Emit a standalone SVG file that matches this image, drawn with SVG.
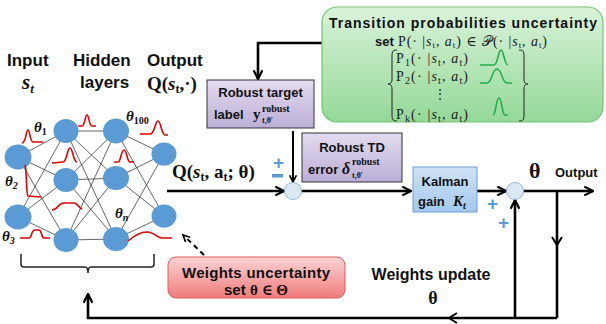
<svg xmlns="http://www.w3.org/2000/svg" width="606" height="324" viewBox="0 0 606 324">
<style>
.n{fill:#5b9bd5}
.e{stroke:#222;stroke-width:0.7}
.r{fill:none;stroke:#e00000;stroke-width:1.6}
.g{fill:none;stroke:#1fae4a;stroke-width:1.6}
.c{fill:none;stroke:#000;stroke-width:2.6}
.c2{fill:none;stroke:#000;stroke-width:2}
.lbl{font-family:"Liberation Sans",Arial,sans-serif;font-weight:bold;fill:#111}
.m{font-family:"Liberation Serif","Times New Roman","DejaVu Serif",serif;font-weight:bold;fill:#111}
.mt{font-family:"Liberation Serif","Times New Roman","DejaVu Serif",serif;fill:#222}
.pl{font-family:"Liberation Sans",Arial,sans-serif;font-weight:bold;fill:#5b9bd5}
</style>
<defs>
<marker id="ah" viewBox="0 0 10 10" refX="9" refY="5" markerWidth="4.2" markerHeight="4.2" orient="auto-start-reverse" markerUnits="strokeWidth">
<path d="M1,1 L9,5 L1,9" fill="none" stroke="#000" stroke-width="2"/>
</marker>
<linearGradient id="gPur" x1="0" y1="0" x2="0" y2="1"><stop offset="0" stop-color="#e3dbef"/><stop offset="1" stop-color="#bcaed7"/></linearGradient>
<linearGradient id="gBlu" x1="0" y1="0" x2="0" y2="1"><stop offset="0" stop-color="#cfe2f5"/><stop offset="1" stop-color="#a3c8ec"/></linearGradient>
<linearGradient id="gRed" x1="0" y1="0" x2="0" y2="1"><stop offset="0" stop-color="#fbd3d3"/><stop offset="1" stop-color="#f07c7c"/></linearGradient>
<linearGradient id="gGrn" x1="0" y1="0" x2="0" y2="1"><stop offset="0" stop-color="#d9f3d9"/><stop offset="1" stop-color="#94d898"/></linearGradient>
</defs>

<!-- neural network -->
<g id="network">
  <g id="nn-edges">
    <line class="e" x1="18" y1="157" x2="66" y2="131"/><line class="e" x1="18" y1="157" x2="66" y2="180"/><line class="e" x1="18" y1="157" x2="66" y2="240"/>
    <line class="e" x1="18" y1="217" x2="66" y2="131"/><line class="e" x1="18" y1="217" x2="66" y2="180"/><line class="e" x1="18" y1="217" x2="66" y2="240"/>
    <line class="e" x1="66" y1="131" x2="116" y2="131"/><line class="e" x1="66" y1="131" x2="116" y2="178"/><line class="e" x1="66" y1="131" x2="116" y2="239"/>
    <line class="e" x1="66" y1="180" x2="116" y2="131"/><line class="e" x1="66" y1="180" x2="116" y2="178"/><line class="e" x1="66" y1="180" x2="116" y2="239"/>
    <line class="e" x1="66" y1="240" x2="116" y2="131"/><line class="e" x1="66" y1="240" x2="116" y2="178"/><line class="e" x1="66" y1="240" x2="116" y2="239"/>
    <line class="e" x1="116" y1="131" x2="164" y2="154"/><line class="e" x1="116" y1="131" x2="164" y2="216"/>
    <line class="e" x1="116" y1="178" x2="164" y2="154"/><line class="e" x1="116" y1="178" x2="164" y2="216"/>
    <line class="e" x1="116" y1="239" x2="164" y2="154"/><line class="e" x1="116" y1="239" x2="164" y2="216"/>
  </g>
  <g id="nn-nodes">
    <ellipse class="n" cx="18" cy="157" rx="13.5" ry="12.5"/>
    <ellipse class="n" cx="18" cy="217" rx="13.5" ry="12.5"/>
    <ellipse class="n" cx="66" cy="131" rx="12.5" ry="12"/>
    <ellipse class="n" cx="66" cy="180" rx="12.5" ry="12"/>
    <ellipse class="n" cx="66" cy="240" rx="12.5" ry="12"/>
    <ellipse class="n" cx="116" cy="131" rx="13" ry="12.5"/>
    <ellipse class="n" cx="116" cy="178" rx="13" ry="12"/>
    <ellipse class="n" cx="116" cy="239" rx="13" ry="12"/>
    <ellipse class="n" cx="164" cy="154" rx="12.5" ry="11.5"/>
    <ellipse class="n" cx="164" cy="216" rx="12.5" ry="11.5"/>
  </g>
  <g id="nn-distributions">
    <path class="r" d="M22,143 C26,143 26,130 28,130 C30,130 30,142 33,142 L43,142"/>
    <path class="r" d="M25,165 C27,170 26,195 28,196 L41,197"/>
    <path class="r" d="M78,126 L82,126 C85,126 85,115 87,115 C89,115 89,126 92,126 L96,126"/>
    <path class="r" d="M52,163 L63,162 C67,162 67,148 70,148 C73,148 73,162 77,162"/>
    <path class="r" d="M52,210 C58,210 58,203 64,203 L74,203 C78,203 78,208 82,209"/>
    <path class="r" d="M20,238 L29,238 C32,238 31,230 35,230 L39,230 C42,230 41,238 44,238 L50,238"/>
    <path class="r" d="M114,162 L118,162 C121,162 121,150 124,150 C127,150 127,162 130,162 L134,162"/>
    <path class="r" d="M140,134 L150,134 C155,134 155,121 158,121 C161,121 161,134 165,135 L168,135"/>
    <path class="r" d="M128,241 C135,235 140,232 147,232 C154,232 157,238 162,238 L172,238"/>
  </g>
  <g id="nn-labels">
    <text class="m" x="34" y="132" font-size="15" font-style="italic">θ<tspan dy="3" font-size="10" font-style="normal">1</tspan></text>
    <text class="m" x="5" y="186" font-size="15" font-style="italic">θ<tspan dy="3" font-size="10">2</tspan></text>
    <text class="m" x="2" y="241" font-size="15" font-style="italic">θ<tspan dy="3" font-size="10">3</tspan></text>
    <text class="m" x="126" y="121" font-size="15" font-style="italic">θ<tspan dy="3" font-size="10" font-style="normal">100</tspan></text>
    <text class="m" x="115" y="218" font-size="15" font-style="italic">θ<tspan dy="3" font-size="10">n</tspan></text>
  </g>
  <path id="nn-brace" d="M21,254 L21,264 Q21,267 24,267 L85,267 Q88,267 88,273 Q88,267 91,267 L151,267 Q154,267 154,264 L154,254" fill="none" stroke="#222" stroke-width="1.5"/>
</g>

<g id="headers">
  <text class="lbl" x="7" y="66" font-size="17">Input</text>
  <text class="m" x="22" y="89" font-size="21" font-style="italic">s<tspan dy="4" font-size="13">t</tspan></text>
  <text class="lbl" x="73" y="66" font-size="17">Hidden</text>
  <text class="lbl" x="80" y="88" font-size="17">layers</text>
  <text class="lbl" x="147" y="66" font-size="17">Output</text>
  <text class="m" x="147" y="90" font-size="19">Q(<tspan font-style="italic">s</tspan><tspan dy="3" font-size="12">t</tspan><tspan dy="-3">,·)</tspan></text>
</g>

<!-- connectors -->
<g id="connectors">
  <line class="c" x1="167" y1="191" x2="284" y2="191" marker-end="url(#ah)"/>
  <line class="c2" x1="293" y1="131" x2="293" y2="182" marker-end="url(#ah)"/>
  <polyline class="c" points="322,43 258,43 258,79" marker-end="url(#ah)"/>
  <line class="c" x1="301.5" y1="191" x2="411" y2="191" marker-end="url(#ah)"/>
  <line class="c" x1="477" y1="191" x2="506" y2="191" marker-end="url(#ah)"/>
  <line class="c" x1="523.5" y1="191" x2="593" y2="191" marker-end="url(#ah)"/>
  <line class="c" x1="557" y1="191" x2="557" y2="318"/>
  <path class="c2" d="M552,237 L557,245 L562,237"/>
  <polyline class="c" points="557,318 88,318 88,294" marker-end="url(#ah)"/>
  <path class="c2" d="M457,313 L449,318 L457,323"/>
  <line class="c" x1="515" y1="318" x2="515" y2="200" marker-end="url(#ah)"/>
  <line x1="204" y1="255" x2="183" y2="235" stroke="#000" stroke-width="2" stroke-dasharray="5,4" marker-end="url(#ah)"/>
</g>

<g id="sum1">
  <circle cx="293" cy="191" r="8.5" fill="#dde8f5" stroke="#7aa6d6" stroke-width="0.8"/>
</g>
<g id="sum2">
  <circle cx="515" cy="191" r="8.5" fill="#dde8f5" stroke="#7aa6d6" stroke-width="0.8"/>
</g>

<g id="signs">
  <text class="pl" x="278.5" y="169" font-size="19" text-anchor="middle">+</text>
  <rect x="272" y="174" width="11" height="3.5" fill="#5b9bd5"/>
  <text class="pl" x="492.5" y="210" font-size="19" text-anchor="middle">+</text>
  <text class="pl" x="503.5" y="229" font-size="19" text-anchor="middle">+</text>
</g>

<g id="q-label">
  <text class="m" x="172" y="178" font-size="19">Q(<tspan font-style="italic">s</tspan><tspan dy="3" font-size="12">t</tspan><tspan dy="-3">, a</tspan><tspan dy="3" font-size="12">t</tspan><tspan dy="-3">; θ)</tspan></text>
</g>

<g id="transition-set">
  <rect x="322" y="7" width="281" height="115" rx="15" fill="url(#gGrn)" stroke="#72c477" stroke-width="1.2"/>
  <text class="lbl" x="463" y="28" font-size="14" text-anchor="middle" textLength="268">Transition probabilities uncertainty</text>
  <text class="lbl" x="375" y="46" font-size="13">set</text>
  <text class="mt" x="398" y="46" font-size="14" textLength="149">P(· |<tspan font-style="italic">s</tspan><tspan dy="2" font-size="9">t</tspan><tspan dy="-2">, </tspan><tspan font-style="italic">a</tspan><tspan dy="2" font-size="9">t</tspan><tspan dy="-2">) ∈ 𝒫(· |</tspan><tspan font-style="italic">s</tspan><tspan dy="2" font-size="9">t</tspan><tspan dy="-2">, </tspan><tspan font-style="italic">a</tspan><tspan dy="2" font-size="9">t</tspan><tspan dy="-2">)</tspan></text>
  <path d="M397,50 C392,50 392,52 392,58 L392,80 C392,83 390,84 388,84 C390,84 392,85 392,89 L392,113 C392,119 392,121 397,121" fill="none" stroke="#222" stroke-width="1"/>
  <path d="M519,50 C524,50 524,52 524,58 L524,80 C524,83 526,84 528,84 C526,84 524,85 524,89 L524,113 C524,119 524,121 519,121" fill="none" stroke="#222" stroke-width="1"/>
  <text class="mt" x="396" y="63" font-size="14" textLength="72">P<tspan dy="3" font-size="10">1</tspan><tspan dy="-3">(· |</tspan><tspan font-style="italic">s</tspan><tspan dy="3" font-size="10">t</tspan><tspan dy="-3">, </tspan><tspan font-style="italic">a</tspan><tspan dy="3" font-size="10">t</tspan><tspan dy="-3">)</tspan></text>
  <text class="mt" x="396" y="81" font-size="14" textLength="72">P<tspan dy="3" font-size="10">2</tspan><tspan dy="-3">(· |</tspan><tspan font-style="italic">s</tspan><tspan dy="3" font-size="10">t</tspan><tspan dy="-3">, </tspan><tspan font-style="italic">a</tspan><tspan dy="3" font-size="10">t</tspan><tspan dy="-3">)</tspan></text>
  <text class="mt" x="434" y="98" font-size="12">⋮</text>
  <text class="mt" x="396" y="119" font-size="14" textLength="72">P<tspan dy="3" font-size="10">k</tspan><tspan dy="-3">(· |</tspan><tspan font-style="italic">s</tspan><tspan dy="3" font-size="10">t</tspan><tspan dy="-3">, </tspan><tspan font-style="italic">a</tspan><tspan dy="3" font-size="10">t</tspan><tspan dy="-3">)</tspan></text>
  <path class="g" d="M480,65 L494,65 C498,65 498,50 501,50 C504,50 504,65 508,65"/>
  <path class="g" d="M480,83 L487,83 C492,83 492,69 497,69 C502,69 502,83 507,83 L512,83"/>
  <path class="g" d="M493,115 C496,115 496,98 499,98 C502,98 502,115 505,115 L508,115"/>
</g>

<g id="robust-target">
  <rect x="207" y="80" width="107" height="48" fill="url(#gPur)" stroke="#333" stroke-width="1"/>
  <text class="lbl" x="260.5" y="97" font-size="13" text-anchor="middle">Robust target</text>
  <text class="lbl" x="214" y="119" font-size="13">label</text>
  <text class="m" x="253" y="119" font-size="15">y</text>
  <text class="m" x="262" y="112" font-size="10">robust</text>
  <text class="m" x="262" y="123" font-size="8">t,θ′</text>
</g>

<g id="robust-td">
  <rect x="302" y="133" width="100" height="49" fill="url(#gPur)" stroke="#333" stroke-width="1"/>
  <text class="lbl" x="352" y="152" font-size="13" text-anchor="middle">Robust TD</text>
  <text class="lbl" x="308" y="174" font-size="13">error</text>
  <text class="m" x="342" y="174" font-size="16" font-style="italic">δ</text>
  <text class="m" x="352" y="165" font-size="10">robust</text>
  <text class="m" x="352" y="178" font-size="8">t,θ′</text>
</g>

<g id="kalman">
  <rect x="413" y="167" width="64" height="45" fill="url(#gBlu)" stroke="#6fa0d8" stroke-width="1"/>
  <text class="lbl" x="445" y="186" font-size="13" text-anchor="middle">Kalman</text>
  <text class="lbl" x="418" y="206" font-size="13">gain</text>
  <text class="m" x="453" y="206" font-size="15" font-style="italic">K<tspan dy="3" font-size="10">t</tspan></text>
</g>

<g id="output-label">
  <text class="m" x="529" y="178" font-size="22">θ</text>
  <text class="lbl" x="555" y="177" font-size="13">Output</text>
</g>

<g id="weights-uncertainty">
  <rect x="168" y="257" width="177" height="41" rx="8" fill="url(#gRed)" stroke="#e05a5a" stroke-width="1"/>
  <text class="lbl" x="256" y="278" font-size="15" text-anchor="middle" textLength="148">Weights uncertainty</text>
  <text x="256" y="295" text-anchor="middle" font-size="15"><tspan class="lbl">set </tspan><tspan class="m">θ ∈ Θ</tspan></text>
</g>

<g id="weights-update">
  <text class="lbl" x="431" y="280" font-size="16" text-anchor="middle">Weights update</text>
  <text class="m" x="433" y="304" font-size="18" text-anchor="middle">θ</text>
</g>
</svg>
